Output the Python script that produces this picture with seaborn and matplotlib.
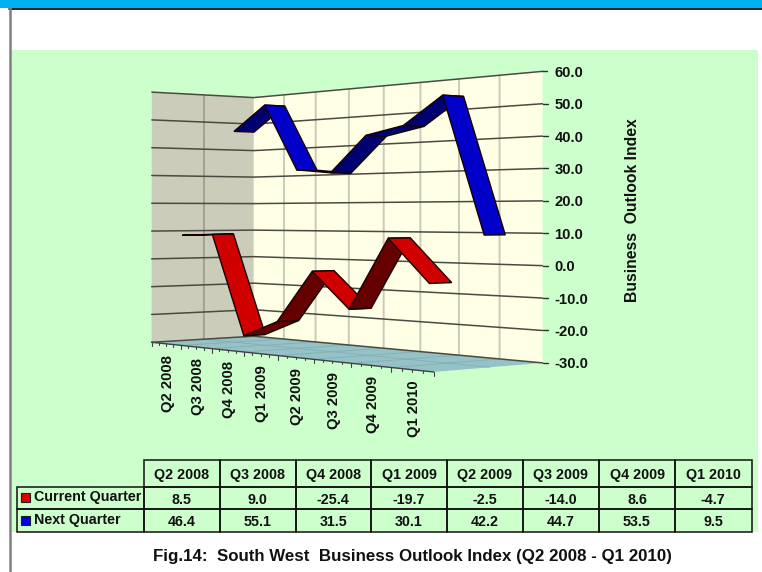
import numpy as np
import pandas as pd
import matplotlib
matplotlib.use("Agg")
import matplotlib.pyplot as plt
from matplotlib.patches import Rectangle
import seaborn as sns

quarters = ["Q2 2008", "Q3 2008", "Q4 2008", "Q1 2009", "Q2 2009", "Q3 2009", "Q4 2009", "Q1 2010"]
current_quarter = [8.5, 9.0, -25.4, -19.7, -2.5, -14.0, 8.6, -4.7]
next_quarter = [46.4, 55.1, 31.5, 30.1, 42.2, 44.7, 53.5, 9.5]
value_ticks = [-30, -20, -10, 0, 10, 20, 30, 40, 50, 60]

GREEN = "#CCFFCC"
sns.set_theme(style="white")
plt.rcParams["font.family"] = ["Liberation Sans", "DejaVu Sans"]

# where the corners of the excel 3d box sit in the picture: (category, value, depth) -> pixel
box_refs = [
    ((0, -30, 0), (152, 342)), ((0, 60, 0), (152, 92)),
    ((0, -30, 1), (254, 337)), ((0, 60, 1), (254, 97)),
    ((8, -30, 1), (543, 362)), ((8, 60, 1), (543, 72)),
    ((8, -30, 0), (434, 372)), ((4, -30, 0), (277, 356)),
    ((4, -30, 1), (383, 348)), ((4, 60, 1), (383, 86)),
]


def unit(c, v, d):
    return np.array([c / 8, (v + 30) / 90, d, 1.0])


def fit_projection(refs):
    rows = []
    for (c, v, d), (u, w) in refs:
        p = unit(c, v, d)
        rows.append(np.r_[p, np.zeros(4), -u / 100 * p])
        rows.append(np.r_[np.zeros(4), p, -w / 100 * p])
    return np.linalg.svd(np.array(rows))[2][-1].reshape(3, 4)


PROJ = fit_projection(box_refs)


def project(c, v, d):
    h = PROJ @ unit(c, v, d)
    return h[0] / h[2] * 100, h[1] / h[2] * 100


def path(points):
    return [project(*p) for p in points]


def poly(ax, points, **kw):
    xy = np.array(path(points))
    ax.fill(xy[:, 0], xy[:, 1], **kw)


def ribbon(ax, values, depth, bright, dark):
    for i in range(len(values) - 1):
        a, b = values[i], values[i + 1]
        poly(ax, [(i + .5, a, depth - .1), (i + .5, a, depth + .1),
                  (i + 1.5, b, depth + .1), (i + 1.5, b, depth - .1)],
             facecolor=dark if b > a + 1 else bright, edgecolor="#180000", linewidth=1.0, zorder=5 + i * .01)


fig = plt.figure(figsize=(7.62, 5.72), dpi=100, facecolor="white")
ax = fig.add_axes([0, 0, 1, 1])
ax.set_xlim(0, 762)
ax.set_ylim(572, 0)

# page furniture
ax.add_patch(Rectangle((0, 0), 762, 8, fc="#00B0F0", ec="none"))
ax.plot([9, 762], [8.5, 8.5], color="black", lw=1.2)
ax.plot([10, 10], [8, 572], color="#808080", lw=1.8)
ax.add_patch(Rectangle((11, 50), 747, 482, fc=GREEN, ec="none"))

# walls and floor
poly(ax, [(0, -30, 0), (0, 60, 0), (0, 60, 1), (0, -30, 1)], facecolor="#CCCCBB", edgecolor="none", zorder=1)
poly(ax, [(0, -30, 1), (0, 60, 1), (8, 60, 1), (8, -30, 1)], facecolor="#FFFFE6", edgecolor="none", zorder=1)
poly(ax, [(0, -30, 0), (0, -30, 1), (8, -30, 1), (8, -30, 0)], facecolor="#94C2C6", edgecolor="none", zorder=2)

# vertical gridlines
for c in range(1, 8):
    xy = np.array(path([(c, -30, 1), (c, 60, 1)]))
    ax.plot(xy[:, 0], xy[:, 1], color="#A8A89C", lw=1.4, alpha=.6, zorder=2)
    xy = np.array(path([(c, -30, 0), (c, -30, 1)]))
    ax.plot(xy[:, 0], xy[:, 1], color="#86AEB2", lw=.6, zorder=3)
xy = np.array(path([(0, -30, .5), (0, 60, .5)]))
ax.plot(xy[:, 0], xy[:, 1], color="#A0A094", lw=1.4, zorder=2)
xy = np.array(path([(0, -30, .5), (8, -30, .5)]))
ax.plot(xy[:, 0], xy[:, 1], color="#86AEB2", lw=.6, zorder=3)

# value gridlines along both walls
grid_rows = []
for v in value_ticks:
    for x, y in path([(0, v, 0), (0, v, 1), (8, v, 1)]):
        grid_rows.append({"px": x, "py": y, "tick": v})
grid = pd.DataFrame(grid_rows)
sns.lineplot(data=grid, x="px", y="py", units="tick", estimator=None, sort=False,
             color="#4A4A40", linewidth=1.1, legend=False, ax=ax, zorder=3)

# series, back one first
ribbon(ax, next_quarter, .75, "#0000C8", "#000070")
ribbon(ax, current_quarter, .25, "#D00000", "#640000")

# value axis
for v in value_ticks:
    x, y = project(8, v, 1)
    ax.plot([x, x + 5], [y, y], color="#303030", lw=1, zorder=4)
    ax.text(x + 12, y + 1.5, f"{v:.1f}", ha="left", va="center", fontsize=10.6, fontweight="bold", color="#111111")
ax.text(632.5, 210.5, "Business  Outlook Index", rotation=90, ha="center", va="center",
        fontsize=11.3, fontweight="bold", color="#111111")

# category axis
xy = np.array(path([(0, -30, 0), (8, -30, 0)]))
ax.plot(xy[:, 0], xy[:, 1], color="#404040", lw=1, zorder=4)
for t in np.arange(0, 8.01, .25):
    x, y = project(t, -30, 0)
    ax.plot([x, x], [y, y + (4 if t == int(t) else 2)], color="#404040", lw=.8, zorder=4)
for i, q in enumerate(quarters):
    x, y = project(i + .5, -30, 0)
    ax.text(x + 1.5, y + 11, q, rotation=90, ha="center", va="top", fontsize=10.7, fontweight="bold", color="#111111")

# data table
edges = np.array([17, 144, 219.5, 295.5, 371, 447, 522.7, 599, 675, 751.6])
row_tops = np.array([460, 486.7, 509.3, 532.3])
cells = [[""] + quarters,
         [""] + [f"{v:.1f}" for v in current_quarter],
         [""] + [f"{v:.1f}" for v in next_quarter]]
tab = ax.table(cellText=cells, cellLoc="center", colWidths=list(np.diff(edges) / 762),
               bbox=[edges[0] / 762, 1 - row_tops[-1] / 572, (edges[-1] - edges[0]) / 762, (row_tops[-1] - row_tops[0]) / 572])
tab.auto_set_font_size(False)
tab.set_fontsize(10.3)
tab.set_zorder(6)
for (r, c), cell in tab.get_celld().items():
    cell.set_height((row_tops[r + 1] - row_tops[r]) / 572)
    cell.set_facecolor("none")
    cell.set_edgecolor("#111111")
    cell.set_linewidth(1.1)
    cell.set_text_props(fontweight="bold", color="#111111", va="center_baseline")
tab[(0, 0)].visible_edges = ""

for name, colour, y in [("Current Quarter", "#E00000", 497), ("Next Quarter", "#0000E0", 520)]:
    ax.add_patch(Rectangle((21, y - 4), 8.5, 8.5, fc=colour, ec="#202020", lw=.8, zorder=7))
    ax.text(34, y, name, ha="left", va="center", fontsize=10.3, fontweight="bold", color="#111111", zorder=7)

ax.text(412, 557, "Fig.14:  South West  Business Outlook Index (Q2 2008 - Q1 2010)", ha="center", va="center",
        fontsize=12.2, fontweight="bold", color="#111111")

ax.axis("off")
fig.savefig("out.png", dpi=100)
